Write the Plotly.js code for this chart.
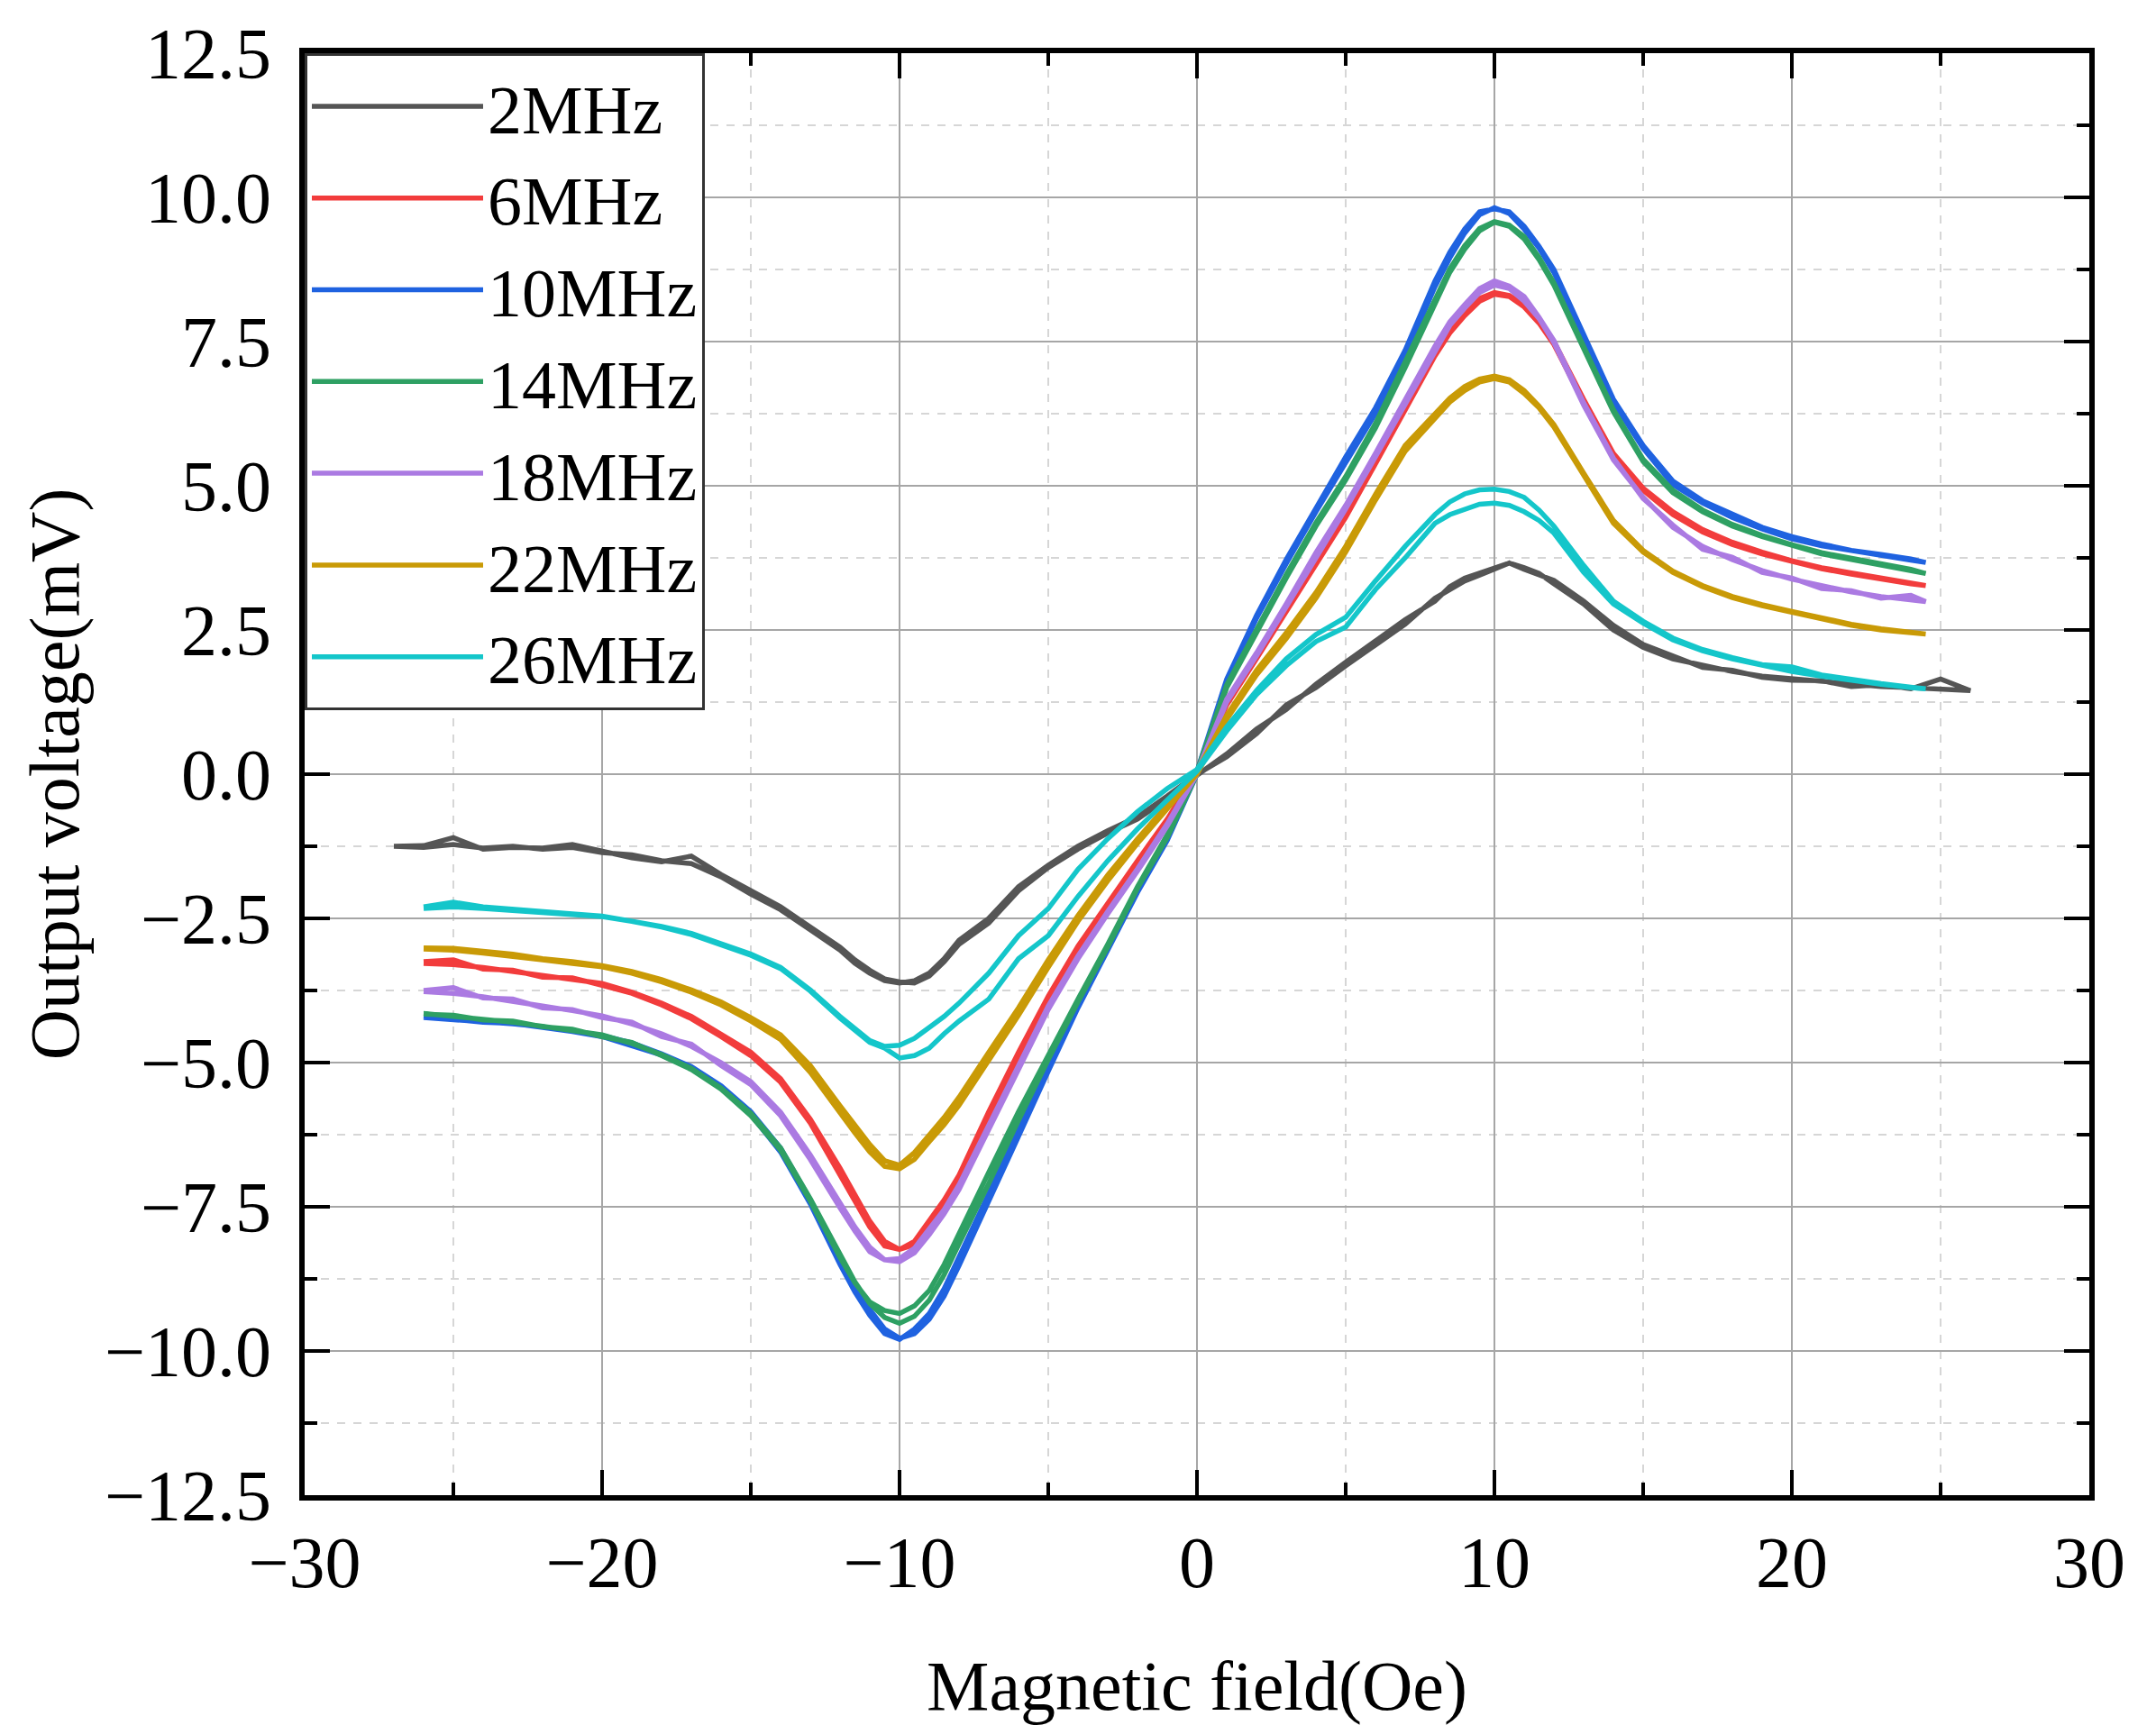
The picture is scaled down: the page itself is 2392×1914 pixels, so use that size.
<!DOCTYPE html>
<html>
<head>
<meta charset="utf-8">
<script src="https://cdn.plot.ly/plotly-3.0.1.min.js"></script>
<style>
  html, body { margin: 0; padding: 0; background: #fff; }
  #chart { width: 2392px; height: 1914px; }
</style>
</head>
<body>
<div id="chart"></div>
<script>
// field sweep (Oe), shared by 6-26 MHz curves; finer steps round the two extrema
var field = [-26,-25,-24,-23,-22,-21,-20,-19,-18,-17,-16,-15,-14,-13,
  -12,-11.5,-11,-10.5,-10,-9.5,-9,-8.5,-8,
  -7,-6,-5,-4,-3,-2,-1,0,1,2,3,4,5,6,7,
  8,8.5,9,9.5,10,10.5,11,11.5,12,
  13,14,15,16,17,18,19,20,21,22,23,24,
  24.5];
// 2 MHz was swept a bit wider
var field2 = [-27,-26,-25,-24,-23,-22,-21,-20,-19,-18,-17,-16,-15,-14,-13,
  -12,-11.5,-11,-10.5,-10,-9.5,-9,-8.5,-8,
  -7,-6,-5,-4,-3,-2,-1,0,1,2,3,4,5,6,7,
  8,8.5,9,9.5,10,10.5,11,11.5,12,
  13,14,15,16,17,18,19,20,21,22,23,24,25,26];

var labels = ['2MHz', '6MHz', '10MHz', '14MHz', '18MHz', '22MHz', '26MHz'];
var colors = ['#555555', '#f23c3c', '#1f62e0', '#2ea063', '#ab7ae2', '#c99a06', '#14c6ca'];

// output voltage (mV): "up" = rising field sweep, "down" = falling field sweep
var v2up = [-1.25,-1.27,-1.22,-1.28,-1.25,-1.30,-1.27,-1.36,-1.40,-1.50,-1.55,-1.78,-2.08,-2.35,-2.70,
  -3.05,-3.28,-3.45,-3.58,-3.62,-3.58,-3.45,-3.20,-2.88,
  -2.50,-1.95,-1.58,-1.25,-0.98,-0.74,-0.38,0.00,0.30,0.70,1.20,1.50,1.88,2.25,2.60,
  3.05,3.20,3.35,3.45,3.55,3.66,3.58,3.48,3.30,
  2.95,2.50,2.20,2.00,1.88,1.78,1.70,1.65,1.60,1.55,1.52,1.50,1.48,1.45];
var v2down = [-1.25,-1.24,-1.10,-1.30,-1.27,-1.28,-1.22,-1.33,-1.45,-1.52,-1.42,-1.74,-2.02,-2.30,-2.66,
  -3.00,-3.22,-3.40,-3.55,-3.60,-3.62,-3.50,-3.25,-2.95,
  -2.58,-2.02,-1.62,-1.30,-1.02,-0.78,-0.42,-0.02,0.35,0.78,1.12,1.56,1.94,2.32,2.68,
  3.00,3.25,3.40,3.50,3.58,3.66,3.55,3.45,3.36,
  3.00,2.58,2.25,2.04,1.85,1.80,1.68,1.63,1.62,1.52,1.55,1.48,1.65,1.45];

var v6up = [-3.28,-3.30,-3.35,-3.42,-3.50,-3.56,-3.63,-3.78,-3.97,-4.20,-4.50,-4.82,-5.28,-5.98,
  -6.83,-7.30,-7.75,-8.10,-8.24,-8.16,-7.83,-7.46,-7.04,
  -5.95,-4.91,-3.92,-3.05,-2.30,-1.55,-0.82,0.00,1.20,2.00,2.82,3.60,4.45,5.38,6.32,
  7.25,7.65,7.95,8.20,8.32,8.28,8.10,7.82,7.45,
  6.45,5.50,4.92,4.50,4.20,3.98,3.82,3.68,3.56,3.47,3.38,3.30,
  3.27];
var v6down = [-3.25,-3.22,-3.38,-3.40,-3.52,-3.53,-3.66,-3.80,-4.00,-4.24,-4.55,-4.88,-5.34,-6.05,
  -6.92,-7.40,-7.85,-8.18,-8.24,-8.10,-7.75,-7.38,-6.95,
  -5.85,-4.82,-3.85,-2.98,-2.25,-1.50,-0.78,0.05,1.25,2.06,2.88,3.66,4.52,5.45,6.40,
  7.32,7.72,8.00,8.25,8.35,8.30,8.14,7.86,7.50,
  6.50,5.56,4.96,4.55,4.24,4.02,3.85,3.70,3.58,3.49,3.40,3.31,
  3.27];

var v10up = [-4.22,-4.25,-4.28,-4.33,-4.38,-4.45,-4.53,-4.66,-4.85,-5.07,-5.40,-5.85,-6.48,-7.38,
  -8.40,-8.88,-9.28,-9.62,-9.78,-9.70,-9.45,-9.05,-8.52,
  -7.42,-6.28,-5.15,-4.05,-3.05,-2.05,-1.15,0.00,1.60,2.70,3.65,4.55,5.40,6.25,7.25,
  8.45,8.95,9.38,9.70,9.82,9.72,9.45,9.12,8.70,
  7.55,6.45,5.65,5.02,4.70,4.45,4.25,4.08,3.96,3.87,3.79,3.71,
  3.67];
var v10down = [-4.20,-4.24,-4.30,-4.32,-4.40,-4.46,-4.55,-4.70,-4.87,-5.10,-5.45,-5.90,-6.55,-7.45,
  -8.50,-8.98,-9.38,-9.70,-9.80,-9.62,-9.35,-8.92,-8.40,
  -7.30,-6.18,-5.08,-4.00,-3.00,-2.00,-1.10,0.05,1.65,2.75,3.72,4.62,5.50,6.35,7.35,
  8.55,9.05,9.45,9.75,9.80,9.75,9.50,9.15,8.75,
  7.60,6.50,5.70,5.08,4.74,4.50,4.28,4.12,3.99,3.88,3.81,3.73,
  3.67];

var v14up = [-4.15,-4.20,-4.24,-4.30,-4.37,-4.44,-4.52,-4.67,-4.86,-5.10,-5.44,-5.88,-6.48,-7.36,
  -8.33,-8.80,-9.18,-9.42,-9.52,-9.40,-9.12,-8.68,-8.14,
  -7.10,-6.00,-4.95,-3.95,-3.00,-1.98,-1.10,0.00,1.50,2.45,3.40,4.30,5.10,6.00,7.05,
  8.15,8.70,9.10,9.42,9.57,9.50,9.28,8.92,8.48,
  7.38,6.28,5.42,4.88,4.55,4.30,4.12,3.96,3.82,3.72,3.62,3.53,
  3.48];
var v14down = [-4.16,-4.18,-4.26,-4.28,-4.38,-4.42,-4.55,-4.65,-4.88,-5.12,-5.46,-5.92,-6.52,-7.40,
  -8.38,-8.82,-9.15,-9.30,-9.35,-9.22,-8.95,-8.50,-7.95,
  -6.90,-5.85,-4.88,-3.90,-2.95,-1.95,-1.05,0.05,1.55,2.50,3.46,4.36,5.16,6.08,7.12,
  8.22,8.76,9.16,9.46,9.58,9.52,9.32,8.96,8.52,
  7.42,6.32,5.46,4.92,4.58,4.33,4.14,3.98,3.84,3.74,3.64,3.55,
  3.48];

var v18up = [-3.77,-3.80,-3.86,-3.95,-4.02,-4.10,-4.19,-4.33,-4.50,-4.72,-5.00,-5.33,-5.86,-6.60,
  -7.45,-7.85,-8.20,-8.42,-8.45,-8.30,-7.98,-7.62,-7.20,
  -6.16,-5.12,-4.08,-3.20,-2.42,-1.68,-0.90,0.00,1.25,2.05,2.90,3.78,4.60,5.50,6.42,
  7.36,7.78,8.08,8.35,8.48,8.42,8.20,7.90,7.48,
  6.40,5.45,4.80,4.28,3.95,3.72,3.53,3.38,3.26,3.16,3.08,3.02,
  2.99];
var v18down = [-3.75,-3.70,-3.88,-3.90,-4.05,-4.08,-4.22,-4.30,-4.55,-4.68,-5.05,-5.38,-5.92,-6.68,
  -7.52,-7.92,-8.28,-8.42,-8.40,-8.22,-7.90,-7.55,-7.12,
  -6.08,-5.05,-4.02,-3.15,-2.38,-1.64,-0.86,0.03,1.30,2.10,2.95,3.84,4.66,5.56,6.48,
  7.42,7.84,8.14,8.42,8.55,8.46,8.28,7.92,7.52,
  6.44,5.48,4.78,4.32,3.90,3.76,3.50,3.40,3.22,3.18,3.05,3.10,
  2.99];

var v22up = [-3.03,-3.05,-3.10,-3.15,-3.22,-3.28,-3.34,-3.45,-3.60,-3.78,-4.00,-4.28,-4.60,-5.17,
  -5.88,-6.22,-6.55,-6.80,-6.84,-6.68,-6.37,-6.08,-5.74,
  -4.96,-4.18,-3.35,-2.55,-1.85,-1.20,-0.60,0.00,0.95,1.72,2.35,3.05,3.85,4.75,5.60,
  6.17,6.45,6.65,6.80,6.86,6.80,6.60,6.35,6.02,
  5.18,4.35,3.85,3.50,3.25,3.06,2.92,2.80,2.68,2.58,2.50,2.45,
  2.43];
var v22down = [-3.01,-3.02,-3.06,-3.12,-3.20,-3.25,-3.32,-3.42,-3.56,-3.74,-3.95,-4.22,-4.52,-5.05,
  -5.75,-6.10,-6.42,-6.70,-6.78,-6.56,-6.25,-5.95,-5.60,
  -4.82,-4.05,-3.22,-2.45,-1.75,-1.12,-0.52,0.05,1.02,1.80,2.45,3.15,3.95,4.85,5.70,
  6.25,6.52,6.72,6.85,6.90,6.84,6.65,6.38,6.06,
  5.22,4.40,3.88,3.52,3.27,3.08,2.94,2.82,2.70,2.60,2.52,2.46,
  2.43];

var v26up = [-2.33,-2.30,-2.33,-2.36,-2.40,-2.43,-2.47,-2.55,-2.65,-2.78,-2.95,-3.14,-3.37,-3.76,
  -4.23,-4.45,-4.65,-4.75,-4.92,-4.88,-4.75,-4.50,-4.28,
  -3.90,-3.20,-2.80,-2.12,-1.50,-0.95,-0.45,0.05,0.75,1.38,1.88,2.30,2.55,3.20,3.75,
  4.35,4.50,4.60,4.68,4.70,4.66,4.55,4.40,4.18,
  3.50,2.95,2.62,2.33,2.14,2.00,1.88,1.78,1.70,1.62,1.56,1.50,
  1.48];
var v26down = [-2.30,-2.22,-2.30,-2.34,-2.38,-2.42,-2.46,-2.54,-2.64,-2.76,-2.93,-3.12,-3.35,-3.74,
  -4.20,-4.42,-4.62,-4.72,-4.70,-4.58,-4.39,-4.20,-3.97,
  -3.45,-2.80,-2.33,-1.65,-1.12,-0.65,-0.25,0.08,0.82,1.45,2.00,2.42,2.72,3.35,3.95,
  4.50,4.72,4.86,4.93,4.94,4.90,4.80,4.58,4.30,
  3.62,3.00,2.65,2.36,2.16,2.02,1.90,1.86,1.72,1.64,1.57,1.51,
  1.48];

var sweeps = [
  [field2, v2up, v2down],
  [field, v6up, v6down],
  [field, v10up, v10down],
  [field, v14up, v14down],
  [field, v18up, v18down],
  [field, v22up, v22down],
  [field, v26up, v26down],
];

var serif = 'Liberation Serif, Times New Roman, serif';

// each curve is one closed loop: rising sweep out, falling sweep back
var data = sweeps.map(function(s, i) {
  return {
    name: labels[i],
    x: s[0].concat(s[0].slice().reverse()),
    y: s[1].concat(s[2].slice().reverse()),
    mode: 'lines',
    type: 'scatter',
    line: {
      color: colors[i],
      width: 5.5,
    },
  };
});

var layout = {
  width: 2392,
  height: 1914,
  paper_bgcolor: '#ffffff',
  plot_bgcolor: '#ffffff',
  margin: { l: 338, r: 74, t: 59, b: 255 },
  font: { family: serif, size: 78, color: '#000000' },
  showlegend: true,
  legend: {
    x: 0,
    y: 1,
    xanchor: 'left',
    yanchor: 'top',
    bgcolor: '#ffffff',
    bordercolor: '#333333',
    borderwidth: 3,
    itemwidth: 190,
    font: { family: serif, size: 76, color: '#000000' },
  },
  xaxis: {
    range: [-30, 30],
    dtick: 10,
    tick0: 0,
    showline: true,
    linecolor: '#000000',
    linewidth: 6,
    mirror: 'allticks',
    ticks: 'inside',
    ticklen: 28,
    tickwidth: 4,
    tickcolor: '#000000',
    ticklabelstandoff: 0,
    showgrid: true,
    gridcolor: '#a6a6a6',
    gridwidth: 2,
    zeroline: false,
    minor: {
      dtick: 5,
      ticks: 'inside',
      ticklen: 14,
      tickwidth: 4,
      tickcolor: '#000000',
      showgrid: true,
      gridcolor: '#d6d6d6',
      gridwidth: 1.5,
      griddash: 'dash',
    },
    tickfont: { family: serif, size: 80 },
    title: {
      text: 'Magnetic field(Oe)',
      font: { family: serif, size: 78 },
      standoff: 74,
    },
  },
  yaxis: {
    range: [-12.5, 12.5],
    dtick: 2.5,
    tick0: 0,
    tickformat: '.1f',
    showline: true,
    linecolor: '#000000',
    linewidth: 6,
    mirror: 'allticks',
    ticks: 'inside',
    ticklen: 28,
    tickwidth: 4,
    tickcolor: '#000000',
    ticklabelstandoff: 15,
    showgrid: true,
    gridcolor: '#a6a6a6',
    gridwidth: 2,
    zeroline: false,
    minor: {
      dtick: 1.25,
      ticks: 'inside',
      ticklen: 14,
      tickwidth: 4,
      tickcolor: '#000000',
      showgrid: true,
      gridcolor: '#d6d6d6',
      gridwidth: 1.5,
      griddash: 'dash',
    },
    tickfont: { family: serif, size: 80 },
    title: {
      text: 'Output voltage(mV)',
      font: { family: serif, size: 78 },
      standoff: 5,
    },
  },
};

Plotly.newPlot('chart', data, layout, { displayModeBar: false, staticPlot: true });
</script>
</body>
</html>
